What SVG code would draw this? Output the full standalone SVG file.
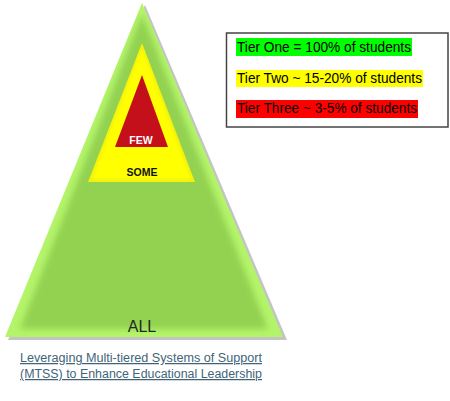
<svg xmlns="http://www.w3.org/2000/svg" width="450" height="401" viewBox="0 0 450 401">
<defs>
<style>
.lbl{font-family:"Liberation Sans",Arial,sans-serif;text-anchor:middle}
.leg{font-family:"Liberation Sans",Arial,sans-serif;font-size:14px;fill:#000}
.cap{font-family:"Liberation Sans",Arial,sans-serif;font-size:12.5px;fill:#3f6479;text-decoration:underline}
</style>
<filter id="soft" x="-10%" y="-10%" width="120%" height="120%">
<feGaussianBlur stdDeviation="3"/>
</filter>
<filter id="soft2" x="-10%" y="-10%" width="120%" height="120%">
<feGaussianBlur stdDeviation="1.5"/>
</filter>
<clipPath id="clipG"><polygon points="142,3 5,337 283,337"/></clipPath>
<clipPath id="clipY"><polygon points="142,43 88,182 195,182"/></clipPath>
</defs>
<g id="tier-one">
<polygon points="145,5 8,340 287,340" fill="#c4c4c4"/>
<polygon points="142,3 5,337 283,337" fill="#b4f46a"/>
<g clip-path="url(#clipG)">
<polygon points="142,14 20,329 268,329" fill="#93d151" filter="url(#soft)"/>
</g>
<text class="lbl" x="142" y="332" font-size="16" fill="#1e2a1e">ALL</text>
</g>
<g id="tier-two">
<polygon points="142,43 88,182 195,182" fill="#f0f010"/>
<g clip-path="url(#clipY)">
<polygon points="142,48 92,179 191,179" fill="#ffff00" filter="url(#soft2)"/>
</g>
<text class="lbl" x="142" y="176" font-size="10.5" font-weight="bold" fill="#111">SOME</text>
</g>
<g id="tier-three">
<polygon points="142,75 115,147 168,147" fill="#c4101a"/>
<text class="lbl" x="141" y="144" font-size="10.5" font-weight="bold" fill="#fff">FEW</text>
</g>
<g id="legend">
<rect x="226.5" y="33" width="221.5" height="94" fill="#fff" stroke="#444" stroke-width="1.5"/>
<rect x="236" y="38" width="176" height="18" fill="#00ff00"/>
<rect x="236" y="70" width="187" height="17" fill="#ffff00"/>
<rect x="236" y="100" width="182" height="18" fill="#ff0000"/>
<text class="leg" x="237" y="52" textLength="174" lengthAdjust="spacingAndGlyphs">Tier One = 100% of students</text>
<text class="leg" x="237" y="83" textLength="185" lengthAdjust="spacingAndGlyphs">Tier Two ~ 15-20% of students</text>
<text class="leg" x="237" y="113" textLength="180" lengthAdjust="spacingAndGlyphs">Tier Three ~ 3-5% of students</text>
</g>
<g id="caption">
<text class="cap" x="20" y="362" textLength="242" lengthAdjust="spacingAndGlyphs">Leveraging Multi-tiered Systems of Support</text>
<text class="cap" x="20" y="378" textLength="242" lengthAdjust="spacingAndGlyphs">(MTSS) to Enhance Educational Leadership</text>
</g>
<g id="connectors"/>
</svg>
